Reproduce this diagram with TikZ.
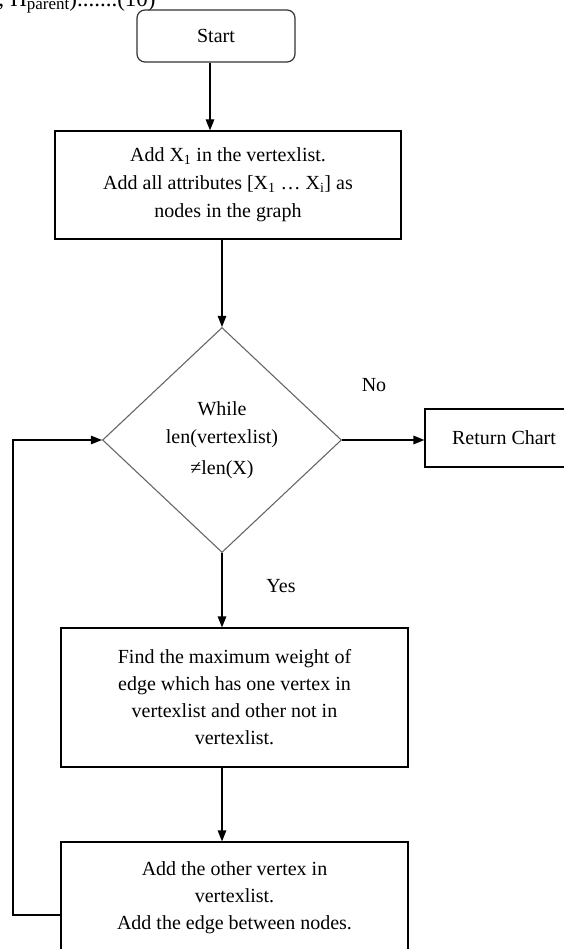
\documentclass[tikz,border=0pt]{standalone}
\usepackage{fontspec}
\setmainfont{Liberation Serif}
\usetikzlibrary{shapes.geometric,arrows.meta}

\begin{document}
\begin{tikzpicture}[x=1pt,y=-1pt,
    every node/.style={font=\fontsize{20}{28}\selectfont},
    box/.style={draw,line width=1.2pt,rectangle,align=center,inner sep=0pt},
    startbox/.style={box,rounded corners=8pt,draw=black!80},
    test/.style={draw=black!60,line width=1.1pt,diamond,align=center,inner sep=0pt},
    arr/.style={line width=1.2pt,-{Triangle[length=11pt,width=8.5pt]}}]
          \useasboundingbox (0,0) rectangle (563,949);

          % cut-off line of the page above
          \node[anchor=base west,inner sep=0pt,font=\fontsize{23}{23}\selectfont] (eqn) at (-2,7)
            {; H\raisebox{-3pt}{\fontsize{17}{17}\selectfont parent}).......(10)};

          \node[startbox,minimum width=158,minimum height=52] (start) at (216,36) {Start};
          \node[box,minimum width=346,minimum height=108] (init) at (228,185)
            {Add X\textsubscript{1} in the vertexlist.\\
             Add all attributes [X\textsubscript{1} \dots\ X\textsubscript{i}] as\\
             nodes in the graph};
          \node[test,minimum width=239,minimum height=225] (cond) at (222,440)
            {While\\len(vertexlist)\\[3pt]≠len(X)};
          \node[box,minimum width=158,minimum height=58] (ret) at (504,438) {Return Chart};
          \node[box,minimum width=347,minimum height=139,font=\fontsize{20}{27}\selectfont] (find) at (234.5,697.5)
            {Find the maximum weight of\\
             edge which has one vertex in\\
             vertexlist and other not in\\
             vertexlist.};
          \node[box,minimum width=347,minimum height=112,font=\fontsize{20}{27}\selectfont] (add) at (234.5,898)
            {Add the other vertex in\\
             vertexlist.\\
             Add the edge between nodes.};

          \node (no) at (374,385) {No};
          \node (yes) at (281,586) {Yes};

          \draw[arr] ([xshift=-6pt]start.south) -- ([xshift=-6pt]start.south |- init.north);
          \draw[arr] (init.south -| cond.north) -- (cond.north);
          \draw[arr] (cond.east) -- (cond.east -| ret.west);
          \draw[arr] (cond.south) -- (cond.south |- find.north);
          \draw[arr] (cond.south |- find.south) -- (cond.south |- add.north);

          % back to the test
          \coordinate (turn) at (13,915);
          \draw[arr] (add.west |- turn) -- (turn) |- (cond.west);
        \end{tikzpicture}
\end{document}
